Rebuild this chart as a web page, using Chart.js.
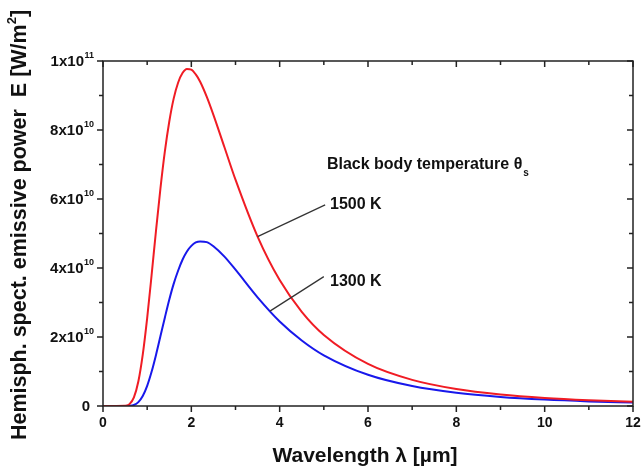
<!DOCTYPE html>
<html>
<head>
<meta charset="utf-8">
<script src="https://cdn.jsdelivr.net/npm/chart.js@4"></script>
<style>
  html, body { margin: 0; padding: 0; background: #fff; }
  #wrap { width: 642px; height: 473px; }
</style>
</head>
<body>
<div id="wrap"><canvas id="chartPlanck"></canvas></div>
<script>
// wavelength in µm, power in 1e10 W/m²
const wavelength = [0, 0.5, 0.6, 0.7, 0.8, 0.9, 1.0, 1.1, 1.2, 1.3, 1.4, 1.5, 1.6, 1.7, 1.8, 1.9, 2.0,
  2.1, 2.2, 2.35, 2.5, 2.75, 3.0, 3.5, 4.0, 4.5, 5, 6, 7, 8, 9, 10, 11, 12];
const power1500 = [0, 0.0056, 0.055, 0.25, 0.71, 1.49, 2.55, 3.79, 5.08, 6.30, 7.37, 8.24, 8.91, 9.37,
  9.65, 9.77, 9.75, 9.61, 9.40, 8.96, 8.44, 7.50, 6.56, 4.91, 3.65, 2.73, 2.06, 1.22, 0.758, 0.493,
  0.333, 0.232, 0.167, 0.123];
const power1300 = [0, 0, 0.0047, 0.030, 0.112, 0.29, 0.584, 0.99, 1.48, 2.02, 2.56, 3.08, 3.54, 3.92,
  4.24, 4.48, 4.64, 4.74, 4.77, 4.75, 4.63, 4.33, 3.95, 3.15, 2.45, 1.90, 1.47, 0.904, 0.577, 0.382,
  0.262, 0.185, 0.134, 0.099];

const xTicks = [0, 2, 4, 6, 8, 10, 12];
const xMinor = [1, 3, 5, 7, 9, 11];
const yTicks = [0, 2, 4, 6, 8, 10];
const yMinor = [1, 3, 5, 7, 9];
const yTickBase = ["0", "2x10", "4x10", "6x10", "8x10", "1x10"];
const yTickExp = ["", "10", "10", "10", "10", "11"];

// label anchors [lambda, power]
const labels = ["1500 K", "1300 K"];
const leaderFrom = [[3.5, 4.91], [3.78, 2.75]];
const leaderTo = [[5.03, 5.83], [5.0, 3.75]];
const labelAt = [[5.14, 5.83], [5.14, 3.62]];
const legendTitleAt = [5.07, 6.99];

const FONT = "Liberation Sans, Arial, sans-serif";

function toPts(ys) {
  return wavelength.map((x, i) => ({ x: x, y: ys[i] }));
}

const framePlugin = {
  id: "frame",
  afterDraw(chart) {
    const ctx = chart.ctx;
    const xs = chart.scales.x, ys = chart.scales.y;
    const a = chart.chartArea;
    ctx.save();
    ctx.strokeStyle = "#222";
    ctx.lineWidth = 1.5;
    ctx.strokeRect(a.left, a.top, a.right - a.left, a.bottom - a.top);

    function vtick(v, len) {
      const px = xs.getPixelForValue(v);
      ctx.beginPath();
      ctx.moveTo(px, a.bottom); ctx.lineTo(px, a.bottom + len);
      ctx.moveTo(px, a.top); ctx.lineTo(px, a.top + len);
      ctx.stroke();
    }
    function htick(v, len) {
      const py = ys.getPixelForValue(v);
      ctx.beginPath();
      ctx.moveTo(a.left, py); ctx.lineTo(a.left - len, py);
      ctx.moveTo(a.right, py); ctx.lineTo(a.right - len, py);
      ctx.stroke();
    }
    xTicks.forEach(v => vtick(v, 6));
    xMinor.forEach(v => vtick(v, 4));
    yTicks.forEach(v => htick(v, 6));
    yMinor.forEach(v => htick(v, 4));

    // tick labels
    ctx.fillStyle = "#111";
    ctx.font = "bold 14px " + FONT;
    ctx.textAlign = "center";
    ctx.textBaseline = "middle";
    xTicks.forEach(v => ctx.fillText(String(v), xs.getPixelForValue(v), a.bottom + 17));

    yTicks.forEach((v, i) => {
      const py = ys.getPixelForValue(v);
      const right = 94;
      ctx.font = "bold 9px " + FONT;
      const ew = yTickExp[i] ? ctx.measureText(yTickExp[i]).width : 0;
      ctx.textAlign = "left";
      ctx.textBaseline = "alphabetic";
      if (ew) ctx.fillText(yTickExp[i], right - ew, py - 3);
      ctx.font = "bold 15px " + FONT;
      ctx.textAlign = "right";
      ctx.textBaseline = "middle";
      ctx.fillText(yTickBase[i], right - ew - (ew ? 0.5 : 4), py + 1);
    });

    // axis titles
    ctx.font = "bold 21px " + FONT;
    ctx.textAlign = "center";
    ctx.textBaseline = "middle";
    ctx.fillText("Wavelength \u03bb [\u00b5m]", 365, 456);

    ctx.save();
    ctx.translate(20, 225);
    ctx.rotate(-Math.PI / 2);
    const t1 = "Hemisph. spect. emissive power  E [W/m";
    const t2 = "2";
    const t3 = "]";
    ctx.font = "bold 21.5px " + FONT;
    const w1 = ctx.measureText(t1).width, w3 = ctx.measureText(t3).width;
    ctx.font = "bold 13px " + FONT;
    const w2 = ctx.measureText(t2).width;
    let x0 = -(w1 + w2 + w3) / 2;
    ctx.textAlign = "left";
    ctx.font = "bold 21.5px " + FONT;
    ctx.fillText(t1, x0, 0);
    ctx.font = "bold 13px " + FONT;
    ctx.fillText(t2, x0 + w1, -8);
    ctx.font = "bold 21.5px " + FONT;
    ctx.fillText(t3, x0 + w1 + w2, 0);
    ctx.restore();

    // legend title and curve labels
    ctx.font = "bold 16px " + FONT;
    ctx.textAlign = "left";
    ctx.textBaseline = "middle";
    const tx = xs.getPixelForValue(legendTitleAt[0]);
    const ty = ys.getPixelForValue(legendTitleAt[1]);
    const head = "Black body temperature \u03b8";
    ctx.fillText(head, tx, ty);
    const hw = ctx.measureText(head).width;
    ctx.font = "bold 10px " + FONT;
    ctx.fillText("s", tx + hw + 1, ty + 8);

    ctx.strokeStyle = "#333";
    ctx.lineWidth = 1.2;
    labels.forEach((lab, i) => {
      ctx.beginPath();
      ctx.moveTo(xs.getPixelForValue(leaderFrom[i][0]), ys.getPixelForValue(leaderFrom[i][1]));
      ctx.lineTo(xs.getPixelForValue(leaderTo[i][0]), ys.getPixelForValue(leaderTo[i][1]));
      ctx.stroke();
      ctx.font = "bold 16px " + FONT;
      ctx.fillText(lab, xs.getPixelForValue(labelAt[i][0]), ys.getPixelForValue(labelAt[i][1]));
    });
    ctx.restore();
  },
};

const chartPlanck = document.getElementById("chartPlanck");
new Chart(chartPlanck, {
  type: "line",
  data: {
    datasets: [
      {
        label: "1500 K",
        data: toPts(power1500),
        borderColor: "rgb(240, 28, 36)",
        borderWidth: 2,
        pointRadius: 0,
        cubicInterpolationMode: "monotone",
      },
      {
        label: "1300 K",
        data: toPts(power1300),
        borderColor: "rgb(24, 24, 235)",
        borderWidth: 2,
        pointRadius: 0,
        cubicInterpolationMode: "monotone",
      },
    ],
  },
  options: {
    responsive: true,
    maintainAspectRatio: false,
    animation: false,
    layout: {
      padding: { left: 103, right: 9, top: 61, bottom: 67 },
    },
    scales: {
      x: { type: "linear", min: 0, max: 12, display: false },
      y: { type: "linear", min: 0, max: 10, display: false },
    },
    plugins: {
      legend: { display: false },
      tooltip: { enabled: false },
    },
  },
  plugins: [framePlugin],
});
</script>
</body>
</html>
